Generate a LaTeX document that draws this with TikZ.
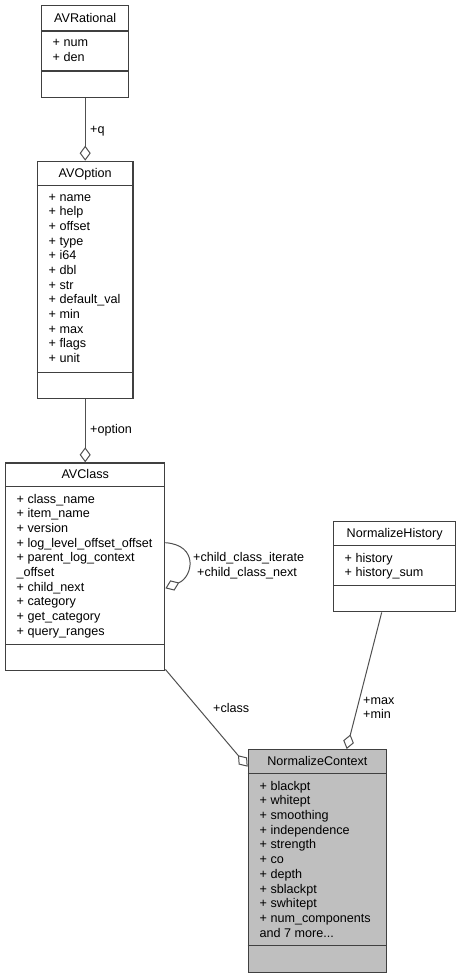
\documentclass[tikz,border=0pt]{standalone}
\usepackage{fontspec}
\setmainfont{Liberation Sans}
\usepackage{xcolor}
\definecolor{boxgray}{RGB}{64, 64, 64}
\definecolor{edgegray}{RGB}{80, 80, 80}
\definecolor{contextfill}{RGB}{191, 191, 191}
\usetikzlibrary{arrows.meta, calc}
\newcommand{\moremembers}{and 7 more...}

\begin{document}
\begin{tikzpicture}[x=1pt, y=-1pt, >=Stealth,
    classbox/.style={draw=boxgray, line width=1.4pt, anchor=north west, inner sep=0pt},
    sepline/.style={boxgray, line width=1.4pt},
    member/.style={anchor=base west, inner sep=0pt, font=\fontsize{12.6}{14.7}\selectfont},
    title/.style={anchor=base, inner sep=0pt, font=\fontsize{12.6}{14.7}\selectfont},
    role/.style={anchor=base west, inner sep=0pt, font=\fontsize{12.6}{14.7}\selectfont},
    assoc/.style={edgegray, line width=1pt, -{Diamond[open, length=15pt, width=11pt]}}]
    \useasboundingbox (0,0) rectangle (460,977);

    \node[classbox, minimum width=87pt, minimum height=92pt] (rational) at (41,5) {};
    \draw[sepline] ($(rational.north west)+(0,26)$) -- ($(rational.north east)+(0,26)$);
    \draw[sepline] ($(rational.north west)+(0,66)$) -- ($(rational.north east)+(0,66)$);
    \node[title] (rational-title) at ($(rational.north)+(0,17.3)$) {AVRational};
    \foreach \m [count=\i from 0] in {+ num, + den}
        \node[member] (rational-\i) at ($(rational.north west)+(11.5,41.7+14.65*\i)$) {\m};

    \node[classbox, minimum width=95.6pt, minimum height=237.3pt] (option) at (36.7,160.7) {};
    \draw[sepline] ($(option.north west)+(0,24.6)$) -- ($(option.north east)+(0,24.6)$);
    \draw[sepline] ($(option.north west)+(0,211.6)$) -- ($(option.north east)+(0,211.6)$);
    \node[title] (option-title) at ($(option.north)+(0,16.8)$) {AVOption};
    \foreach \m [count=\i from 0] in {+ name, + help, + offset, + type, + i64, + dbl, + str,
        + default\_val, + min, + max, + flags, + unit}
        \node[member] (option-\i) at ($(option.north west)+(11.8,40.5+14.65*\i)$) {\m};

    \node[classbox, minimum width=159pt, minimum height=207.7pt] (avclass) at (5,462.3) {};
    \draw[sepline] ($(avclass.north west)+(0,24.4)$) -- ($(avclass.north east)+(0,24.4)$);
    \draw[sepline] ($(avclass.north west)+(0,182)$) -- ($(avclass.north east)+(0,182)$);
    \node[title] (avclass-title) at ($(avclass.north)+(0,16)$) {AVClass};
    \foreach \m [count=\i from 0] in {+ class\_name, + item\_name, + version,
        + log\_level\_offset\_offset, + parent\_log\_context, \_offset, + child\_next,
        + category, + get\_category, + query\_ranges}
        \node[member] (avclass-\i) at ($(avclass.north west)+(11.5,40.9+14.65*\i)$) {\m};

    \node[classbox, minimum width=122pt, minimum height=90.3pt] (history) at (333,520.7) {};
    \draw[sepline] ($(history.north west)+(0,25)$) -- ($(history.north east)+(0,25)$);
    \draw[sepline] ($(history.north west)+(0,65)$) -- ($(history.north east)+(0,65)$);
    \node[title] (history-title) at ($(history.north)+(0,16.8)$) {NormalizeHistory};
    \foreach \m [count=\i from 0] in {+ history, + history\_sum}
        \node[member] (history-\i) at ($(history.north west)+(11.5,41.6+14.65*\i)$) {\m};

    \node[classbox, fill=contextfill, minimum width=138pt, minimum height=222.7pt] (context) at (247.7,749) {};
    \draw[sepline] ($(context.north west)+(0,24.3)$) -- ($(context.north east)+(0,24.3)$);
    \draw[sepline] ($(context.north west)+(0,196.7)$) -- ($(context.north east)+(0,196.7)$);
    \node[title] (context-title) at ($(context.north)+(0,16)$) {NormalizeContext};
    \foreach \m [count=\i from 0] in {+ blackpt, + whitept, + smoothing, + independence,
        + strength, + co, + depth, + sblackpt, + swhitept, + num\_components, \moremembers}
        \node[member] (context-\i) at ($(context.north west)+(11.8,41+14.73*\i)$) {\m};

    \draw[assoc] (rational.south) -- (option.north);
    \node[role] (q-role) at (90,133) {+q};
    \draw[assoc] (option.south) -- (avclass.north);
    \node[role] (option-role) at (90,433) {+option};
    \draw[assoc] ($(avclass.north east)+(0,80.4)$) .. controls (199,545) and (193,577) .. ($(avclass.north east)+(0,126)$);
    \node[role] (iterate-role) at (193,561.7) {+child\_class\_iterate};
    \node[role] (next-role) at (197,576.5) {+child\_class\_next};
    \draw[assoc] ($(avclass.south east)+(0,-2)$) -- ($(context.north west)+(0,17.7)$);
    \node[role] (class-role) at (213,712.7) {+class};
    \draw[assoc] ($(history.south west)+(48.7,0)$) -- ($(context.north west)+(99,0)$);
    \node[role] (max-role) at (363,704) {+max};
    \node[role] (min-role) at (363,718.7) {+min};
\end{tikzpicture}
\end{document}
